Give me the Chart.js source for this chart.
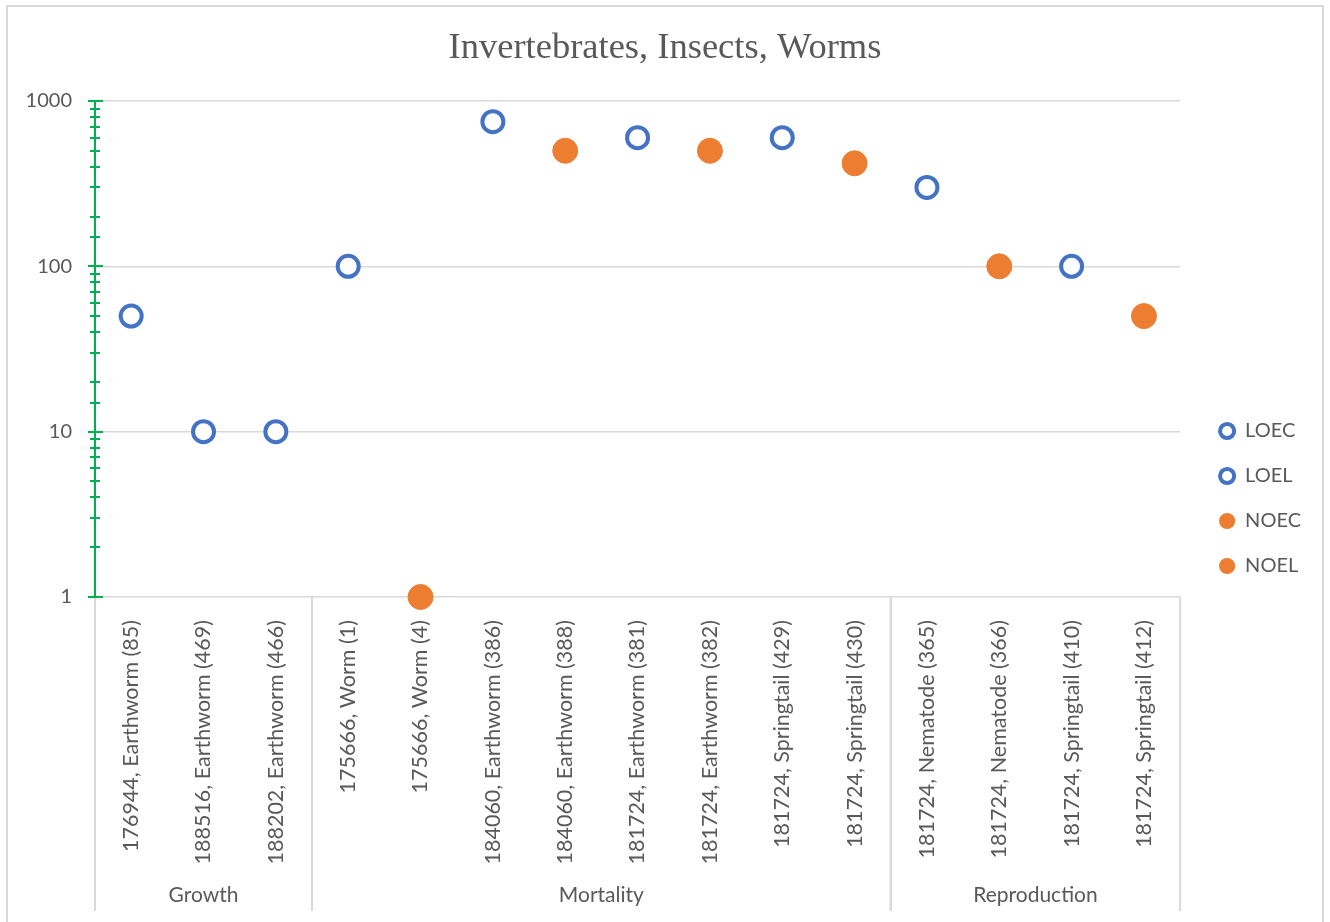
<!DOCTYPE html>
<html>
<head>
<meta charset="utf-8">
<script src="https://cdn.jsdelivr.net/npm/chart.js@4/dist/chart.umd.min.js"></script>
<style>
    html, body { margin: 0; padding: 0; background: #fff; }
    #wrap { width: 1330px; height: 922px; }
</style>
</head>
<body>
<div id="wrap"><canvas id="chart" width="1330" height="922"></canvas></div>
<script>
const categories = [
    '176944, Earthworm (85)', '188516, Earthworm (469)', '188202, Earthworm (466)',
    '175666, Worm (1)', '175666, Worm (4)', '184060, Earthworm (386)', '184060, Earthworm (388)',
    '181724, Earthworm (381)', '181724, Earthworm (382)', '181724, Springtail (429)', '181724, Springtail (430)',
    '181724, Nematode (365)', '181724, Nematode (366)', '181724, Springtail (410)', '181724, Springtail (412)'
];
const groups = ['Growth', 'Mortality', 'Reproduction'];
const groupSizes = [3, 8, 4];

const loec = [50, 10, 10, null, null, 750, null, 600, null, 600, null, 300, null, 100, null];
const loel = [null, null, null, 100, null, null, null, null, null, null, null, null, null, null, null];
const noec = [null, null, null, null, null, null, 500, null, 500, null, 420, null, 100, null, 50];
const noel = [null, null, null, null, 1, null, null, null, null, null, null, null, null, null, null];

const yTicks = [1, 10, 100, 1000];

const BLUE = '#4472C4';
const ORANGE = '#ED7D31';
const TEXT = '#595959';
const LINE = '#d9d9d9';
const GREEN = '#00B050';

function isMajor(v) {
    return yTicks.indexOf(v) !== -1;
}

function ring(label, data) {
    return {
        label: label, data: data, showLine: false, clip: false,
        pointStyle: 'circle', pointRadius: 10.5, pointBorderWidth: 4,
        pointBorderColor: BLUE, pointBackgroundColor: '#ffffff',
        borderColor: BLUE, backgroundColor: '#ffffff'
    };
}

function dot(label, data) {
    return {
        label: label, data: data, showLine: false, clip: false,
        pointStyle: 'circle', pointRadius: 12.5, pointBorderWidth: 1,
        pointBorderColor: ORANGE, pointBackgroundColor: ORANGE,
        borderColor: ORANGE, backgroundColor: ORANGE
    };
}

// frame, title, green axis, group labels
const decorations = {
    id: 'decorations',
    beforeDraw(chart) {
        const ctx = chart.ctx;
        ctx.save();
        ctx.strokeStyle = LINE;
        ctx.lineWidth = 2;
        ctx.strokeRect(7, 6, 1316, 1000);
        ctx.fillStyle = TEXT;
        ctx.font = '36.5px "Liberation Serif"';
        ctx.textAlign = 'center';
        ctx.textBaseline = 'alphabetic';
        ctx.fillText('Invertebrates, Insects, Worms', 665, 58);
        ctx.restore();
    },
    beforeDatasetsDraw(chart) {
        const ctx = chart.ctx;
        const area = chart.chartArea;
        const x = chart.scales.x;
        const y = chart.scales.y;
        const step = x.getPixelForValue(1) - x.getPixelForValue(0);

        ctx.save();
        // group separators and labels
        ctx.strokeStyle = LINE;
        ctx.lineWidth = 2;
        ctx.fillStyle = TEXT;
        ctx.font = '21px Lato';
        ctx.textAlign = 'center';
        ctx.textBaseline = 'middle';
        let start = 0;
        groups.forEach((g, i) => {
            const left = x.getPixelForValue(start) - step / 2;
            const right = x.getPixelForValue(start + groupSizes[i] - 1) + step / 2;
            ctx.beginPath();
            ctx.moveTo(left, area.bottom);
            ctx.lineTo(left, 911);
            ctx.moveTo(right, area.bottom);
            ctx.lineTo(right, 911);
            ctx.stroke();
            ctx.fillText(g, (left + right) / 2, 895);
            start += groupSizes[i];
        });

        // green value axis with major and minor ticks
        ctx.strokeStyle = GREEN;
        ctx.lineWidth = 2;
        ctx.beginPath();
        ctx.moveTo(area.left, area.top);
        ctx.lineTo(area.left, area.bottom);
        y.ticks.forEach(t => {
            const py = Math.round(y.getPixelForValue(t.value));
            const len = isMajor(t.value) ? 7 : 5;
            ctx.moveTo(area.left - len, py);
            ctx.lineTo(area.left + len + (isMajor(t.value) ? 1 : 0), py);
        });
        ctx.stroke();
        ctx.restore();
    }
};

const chart = new Chart(document.getElementById('chart'), {
    type: 'line',
    data: {
        labels: categories,
        datasets: [ring('LOEC', loec), ring('LOEL', loel), dot('NOEC', noec), dot('NOEL', noel)]
    },
    plugins: [decorations],
    options: {
        responsive: false,
        animation: false,
        layout: { padding: { top: 101, right: 19, bottom: 26, left: 0 } },
        plugins: {
            title: { display: false },
            tooltip: { enabled: false },
            legend: {
                position: 'right',
                labels: {
                    usePointStyle: true,
                    boxWidth: 16,
                    boxHeight: 10,
                    padding: 25,
                    color: TEXT,
                    font: { family: 'Lato', size: 20 },
                    generateLabels(c) {
                        const items = Chart.defaults.plugins.legend.labels.generateLabels(c);
                        items.forEach(it => {
                            it.lineWidth = it.text.startsWith('LO') ? 4 : 2;
                        });
                        return items;
                    }
                }
            }
        },
        scales: {
            x: {
                type: 'category',
                offset: true,
                grid: { display: false },
                border: { display: false },
                ticks: {
                    autoSkip: false,
                    minRotation: 90,
                    maxRotation: 90,
                    padding: 15,
                    color: TEXT,
                    font: { family: 'Lato', size: 21.5 }
                },
                afterFit(s) { s.height = 299; }
            },
            y: {
                type: 'logarithmic',
                min: 1,
                max: 1000,
                border: { display: false },
                grid: {
                    drawTicks: false,
                    lineWidth: 1.5,
                    color: c => (c.tick && isMajor(c.tick.value)) ? LINE : 'rgba(0,0,0,0)'
                },
                ticks: {
                    autoSkip: false,
                    padding: 23,
                    color: TEXT,
                    font: { family: 'Lato', size: 20 },
                    callback: v => isMajor(v) ? String(v) : ''
                },
                afterFit(s) { s.width = 95; }
            },
            y2: {
                position: 'right',
                display: true,
                grid: { display: false },
                border: { display: false },
                ticks: { display: false },
                afterFit(s) { s.width = 14; }
            }
        }
    }
});
</script>
</body>
</html>
